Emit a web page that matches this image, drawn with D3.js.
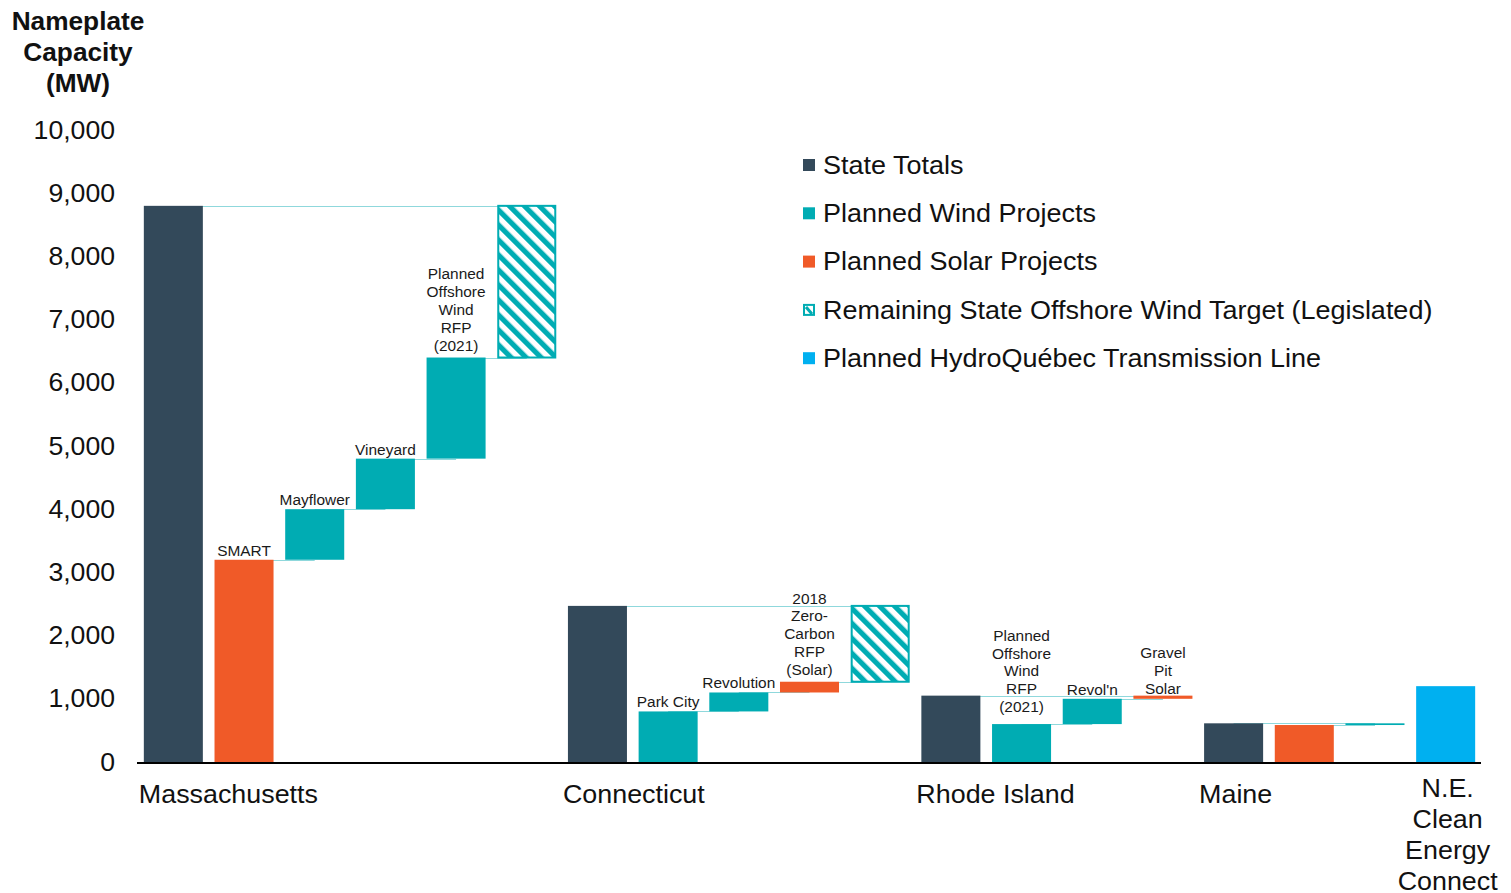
<!DOCTYPE html>
<html>
<head>
<meta charset="utf-8">
<script src="https://cdn.jsdelivr.net/npm/d3@7"></script>
<style>
  html, body { margin: 0; padding: 0; background: #fff; }
  svg { display: block; font-family: Arial, "Liberation Sans", sans-serif; }
</style>
</head>
<body>
<svg id="chart" width="1511" height="893"></svg>
<script>
// ---------- DATA ----------
const groupLabels = ["Massachusetts", "Connecticut", "Rhode Island", "Maine", "N.E.\nClean\nEnergy\nConnect"];
const groupSizes = [6, 5, 4, 3, 1];

const barLabels = [
  "", "SMART", "Mayflower", "Vineyard", "Planned\nOffshore\nWind\nRFP\n(2021)", "",
  "", "Park City", "Revolution", "2018\nZero-\nCarbon\nRFP\n(Solar)", "",
  "", "Planned\nOffshore\nWind\nRFP\n(2021)", "Revol'n", "Gravel\nPit\nSolar",
  "", "", "",
  ""
];
const barTypes = [
  "total", "solar", "wind", "wind", "wind", "target",
  "total", "wind", "wind", "solar", "target",
  "total", "wind", "wind", "solar",
  "total", "solar", "wind",
  "hydro"
];
const barStarts = [
  0, 0, 3200, 4000, 4800, 6400,
  0, 0, 800, 1100, 1270,
  0, 0, 600, 1000,
  0, 0, 585,
  0
];
const barEnds = [
  8800, 3200, 4000, 4800, 6400, 8800,
  2470, 800, 1100, 1270, 2470,
  1050, 600, 1000, 1050,
  612, 585, 612,
  1200
];

const yTicks = [0, 1000, 2000, 3000, 4000, 5000, 6000, 7000, 8000, 9000, 10000];

const legendTypes = ["total", "wind", "solar", "target", "hydro"];
const legendLabels = [
  "State Totals",
  "Planned Wind Projects",
  "Planned Solar Projects",
  "Remaining State Offshore Wind Target (Legislated)",
  "Planned HydroQuébec Transmission Line"
];

const yTitle = ["Nameplate", "Capacity", "(MW)"];

// ---------- STYLE ----------
const colors = {
  total: "#33495a",
  wind: "#00acb3",
  solar: "#f05a28",
  target: "#00acb3",
  hydro: "#00b0f0"
};
const connectorColor = "#8fd8dc";

// ---------- HELPERS ----------
// multi-line text, horizontally stretched around its anchor
function stretchedText(parent, x, y, lines, opts) {
  const sx = opts.sx || 1;
  const lh = opts.lh || 0;
  const g = parent.append("g").attr("transform", `translate(${x},${y}) scale(${sx},1)`);
  const t = g.append("text")
    .attr("text-anchor", opts.anchor || "start")
    .attr("font-size", opts.size)
    .attr("font-weight", opts.weight || "normal")
    .attr("fill", opts.fill || "#111");
  if (opts.dy) t.attr("dy", opts.dy);
  lines.forEach((ln, k) => {
    t.append("tspan").attr("x", 0).attr("y", (opts.lineOffset ? opts.lineOffset(k, lines.length) : k * lh)).text(ln);
  });
  if (opts.dy) t.selectAll("tspan").attr("dy", opts.dy);
  return t;
}

// ---------- CHART ----------
const svg = d3.select("#chart");
const n = barTypes.length;
const idx = d3.range(n);

const x = d3.scaleBand()
  .domain(idx)
  .range([138, 1481])
  .paddingInner(0.165)
  .paddingOuter(0.0825);

const y = d3.scaleLinear().domain([0, 10000]).range([762, 130]);

// pattern
const defs = svg.append("defs");
const pat = defs.append("pattern")
  .attr("id", "hatch")
  .attr("patternUnits", "userSpaceOnUse")
  .attr("width", 10.6)
  .attr("height", 10.6)
  .attr("patternTransform", "rotate(-45)");
pat.append("rect").attr("width", 10.6).attr("height", 10.6).attr("fill", "#fff");
pat.append("rect").attr("width", 5.2).attr("height", 10.6).attr("fill", colors.target);

const fillFor = t => t === "target" ? "url(#hatch)" : colors[t];

// group index of each bar
const groupOf = [];
const groupStart = [];
let acc = 0;
groupSizes.forEach((s, g) => { groupStart.push(acc); for (let k = 0; k < s; k++) groupOf.push(g); acc += s; });

// connectors
const connectors = [];
groupSizes.forEach((s, g) => {
  const st = groupStart[g];
  if (s < 2) return;
  connectors.push({ from: st, to: st + s - 1, v: barEnds[st] });
  for (let i = st + 1; i < st + s - 1; i++) {
    connectors.push({ from: i, to: i + 1, v: barEnds[i] });
  }
});
const cx = i => x(i) + x.bandwidth() / 2;

svg.append("g").selectAll("line").data(connectors).join("line")
  .attr("x1", d => cx(d.from))
  .attr("x2", d => cx(d.to))
  .attr("y1", d => Math.round(y(d.v)) + 0.5)
  .attr("y2", d => Math.round(y(d.v)) + 0.5)
  .attr("stroke", connectorColor)
  .attr("stroke-width", 1.2);

// bars
svg.append("g").selectAll("rect").data(idx).join("rect")
  .attr("x", i => x(i) + (barTypes[i] === "target" ? 1 : 0))
  .attr("width", i => x.bandwidth() - (barTypes[i] === "target" ? 2 : 0))
  .attr("y", i => y(Math.max(barStarts[i], barEnds[i])))
  .attr("height", i => Math.max(1.5, Math.abs(y(barStarts[i]) - y(barEnds[i]))))
  .attr("fill", i => fillFor(barTypes[i]))
  .attr("stroke", i => barTypes[i] === "target" ? colors.target : "none")
  .attr("stroke-width", 2);

// bar labels
idx.filter(i => barLabels[i]).forEach(i => {
  const lines = barLabels[i].split("\n");
  const top = y(Math.max(barStarts[i], barEnds[i]));
  let gap = 4;
  if (groupOf[i] === 2 && barTypes[i] === "wind" && lines.length > 1) gap = 12;
  else if (barTypes[i] === "solar" && lines.length === 3) gap = 2;
  else if (lines.length > 1) gap = 7;
  const lh = 17.8;
  const n = lines.length;
  stretchedText(svg, cx(i), top - gap, lines, {
    sx: 1.03, size: 15, anchor: "middle", fill: "#1a1a1a",
    lineOffset: (k) => -(n - 1 - k) * lh
  });
});

// axis baseline
svg.append("line")
  .attr("x1", 137).attr("x2", 1481)
  .attr("y1", y(0) + 1).attr("y2", y(0) + 1)
  .attr("stroke", "#000").attr("stroke-width", 2.2);

// y axis labels (positions from the axis scale)
const yAxis = d3.axisLeft(y).tickValues(yTicks).tickSize(0).tickPadding(0)
  .tickFormat(d3.format(","));
const ya = svg.append("g").attr("transform", "translate(115,0)").call(yAxis);
ya.select(".domain").remove();
ya.selectAll(".tick text")
  .attr("font-size", 25).attr("fill", "#111")
  .attr("font-family", "Arial, 'Liberation Sans', sans-serif")
  .attr("transform", "scale(1.065,1)")
  .attr("x", 0);

// y title
stretchedText(svg, 78, 30, yTitle, { sx: 1.05, size: 25, weight: "bold", anchor: "middle", lh: 31 });

// category labels
groupLabels.forEach((lab, g) => {
  const lines = lab.split("\n");
  const st = groupStart[g];
  if (lines.length === 1) {
    stretchedText(svg, x(st) - 5, 803, lines, { sx: 1.075, size: 25 });
  } else {
    stretchedText(svg, cx(st) + 2, 797, lines, { sx: 1.075, size: 25, anchor: "middle", lh: 31 });
  }
});

// legend
const lg = svg.append("g").attr("transform", "translate(803,0)");
legendTypes.forEach((t, k) => {
  const yc = 165 + k * 48.3;
  if (t === "target") {
    lg.append("rect").attr("x", 1).attr("y", yc - 5).attr("width", 10).attr("height", 10)
      .attr("fill", "#fff").attr("stroke", colors.target).attr("stroke-width", 2);
    lg.append("line").attr("x1", 3).attr("y1", yc - 3).attr("x2", 9).attr("y2", yc + 4)
      .attr("stroke", colors.target).attr("stroke-width", 3);
  } else {
    lg.append("rect").attr("x", 0).attr("y", yc - 6).attr("width", 12).attr("height", 12)
      .attr("fill", colors[t]);
  }
  stretchedText(lg, 20, yc, [legendLabels[k]], { sx: 1.08, size: 25, dy: "0.35em" });
});
</script>
</body>
</html>
